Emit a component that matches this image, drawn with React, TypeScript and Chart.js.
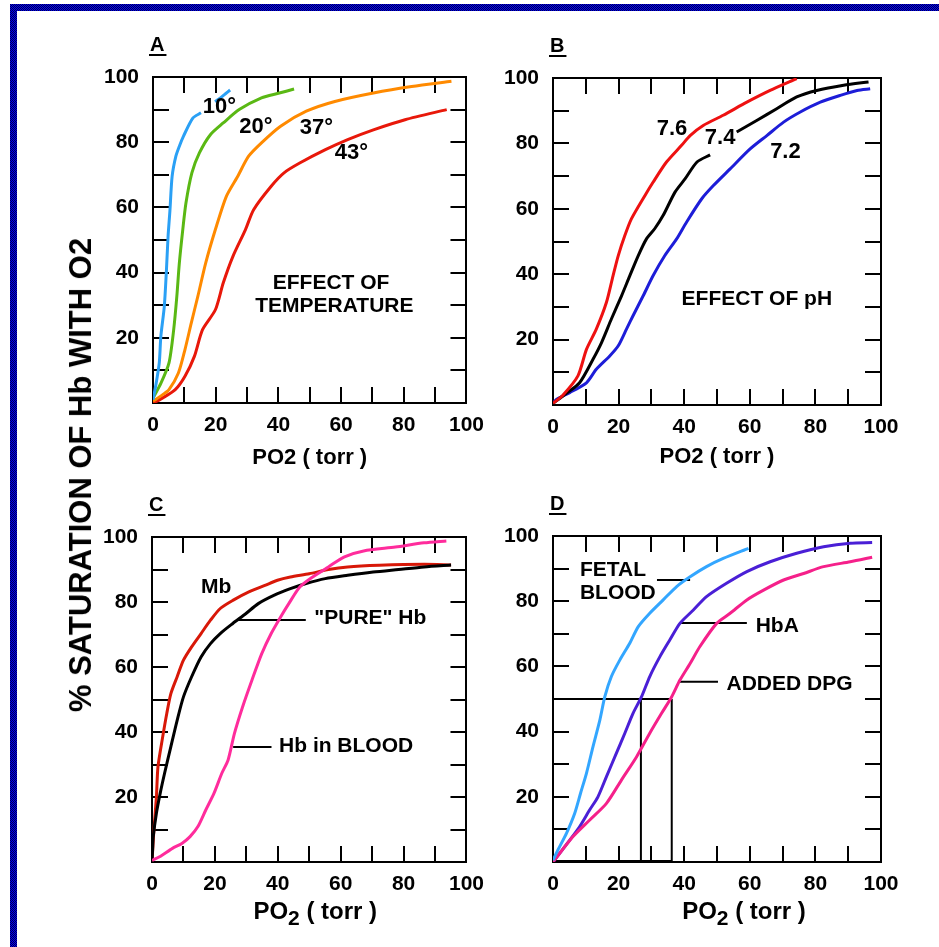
import { useEffect, useRef } from "react";
import { Chart, registerables } from "chart.js";

Chart.register(...registerables);

const FONT = "'Liberation Sans', Arial, Helvetica, sans-serif";

// ---------- Panel A : effect of temperature ----------
const a10X = [0, 1, 2, 2.5, 3.6, 4.3, 4.8, 5.4, 6.1, 7.3, 8.5, 9.7, 12.7, 15.3, 17.5, 19.8, 22, 24.6];
const a10Y = [1, 6, 12.3, 20.4, 29.6, 41, 51, 59, 69.5, 75.7, 79, 81.8, 87.4, 89, null, 92.4, 94, 96];
const a20X = [0, 2.5, 5.1, 6.6, 7.6, 8.4, 9.5, 10.5, 12.4, 14.8, 18.3, 22.4, 27.5, 34.6, 40, 45];
const a20Y = [1.5, 6, 12.3, 22.5, 32.7, 42.9, 53.2, 61.3, 70.6, 76.7, 82.3, 85.9, 90, 93.6, 95, 96.3];
const a37X = [0, 3, 5.1, 8.1, 10.2, 12.2, 14.3, 16.8, 19.9, 23.4, 27, 30.5, 34.6, 40.7, 48.9, 58, 70.3, 82.5, 95.2];
const a37Y = [0.5, 2.5, 4.1, 9.2, 16.4, 24.5, 32.7, 42.9, 53.2, 63.4, 69.5, 75.7, 79.8, 84.9, 89.5, 92.5, 95.1, 97.1, 98.7];
const a43X = [0, 3, 7.1, 10.2, 13.2, 15.8, 19.9, 22.4, 25.5, 29.5, 32.1, 37.7, 41.8, 46.8, 55, 62.1, 70.3, 80.4, 93.7];
const a43Y = [0, 1.5, 4.1, 8.2, 14.3, 22.5, 28.6, 36.8, 45, 53.2, 59.3, 66.5, 70.6, 73.6, 77.7, 80.8, 83.8, 86.9, 90];

// ---------- Panel B : effect of pH ----------
const b76X = [0, 3, 7.6, 10.2, 13.2, 16.3, 18.3, 19.9, 21.9, 23.9, 28, 30.5, 34.6, 39.2, 41.8, 45.8, 51.9, 59.1, 66.2, 74.3];
const b76Y = [0.5, 3, 8.9, 17, 23.2, 31.4, 39.5, 45.7, 51.8, 56.9, 64, 68.1, 74.3, 79.4, 82.4, 85.5, 88.6, 92.6, 96.2, 99.8];
const b74X = [0, 4, 8.1, 12.2, 14.8, 17.8, 20.9, 23.4, 26, 28.5, 31, 33.6, 37.2, 40.3, 43.9, 47.9, 52, 56, 62.1, 68.2, 74.3, 80.4, 88.6, 96.2];
const b74Y = [0.5, 3.5, 6.8, 14, 19.1, 26.3, 33.4, 39.5, 45.7, 50.8, 53.9, 58, 65.1, 69.2, 74.3, 76.5, null, 83.5, 87, 90.6, 94.2, 96.2, 97.8, 98.8];
const b72X = [0, 1, 5.1, 10.2, 13.2, 17.3, 19.9, 22.4, 24.4, 27.5, 30.5, 34.1, 37.7, 40.7, 45.3, 48.9, 54, 60.1, 65.2, 70.3, 75.4, 81.5, 87.6, 92.7, 96.7];
const b72Y = [0.5, 1.7, 3.8, 6.8, 10.9, 15, 18.1, 23.2, 27.3, 33.4, 39.5, 45.7, 50.8, 55.9, 63, 67.1, 72.2, 78.3, 82.4, 86.5, 89.6, 92.6, 94.7, 96.2, 96.7];

// ---------- Panel C : Mb, pure Hb, Hb in blood ----------
const cMbX = [0, 0.3, 0.6, 1.4, 1.9, 3.4, 4.7, 6, 8, 10, 12.6, 15.6, 18.6, 21.7, 25.7, 30.8, 35.9, 39.9, 44, 50, 56.1, 62.2, 72.3, 86.5, 95.1];
const cMbY = [0, 5, 9.8, 20, 29.3, 38.5, 45.7, 51.8, 57, 62.1, 66.2, 70.3, 74.4, 78, 80.5, 83.1, 85.1, 86.7, 87.7, 88.7, 90, 90.8, 91.3, 91.6, 91.4];
const cPureX = [0, 0.2, 0.4, 1.4, 2.6, 4, 6, 8, 10, 12.6, 15.6, 18.6, 21.7, 25.7, 29.8, 33.8, 38.9, 44, 49, 55.1, 62.2, 70.3, 78.4, 86.5, 95.1];
const cPureY = [0, 4, 7.8, 15, 21.1, 27.3, 35.5, 43.6, 50.8, 57, 63.1, 67.2, 70.3, 73.4, 76.4, 79.5, 82.1, 84.1, 85.7, 87.2, 88.2, 89.2, 90, 90.8, 91.4];
const cBloodX = [0, 2.4, 6.5, 9.5, 12.1, 14.6, 17.1, 19.7, 22.2, 24.2, 26.2, 28.8, 31.8, 34.9, 37.9, 40.9, 43.5, 47, 51.1, 56.1, 61.2, 67.3, 77.4, 86.5, 93.6];
const cBloodY = [0.5, 1.6, 4.2, 5.7, 7.8, 10.9, 16, 21.1, 27.3, 31.4, 39.5, 47.7, 56, 64.1, 70.3, 75.4, 79.5, 84.6, 87.7, 90.8, 93.9, 95.7, 96.9, 98.2, 98.8];

// ---------- Panel D : fetal blood, HbA, added DPG ----------
const dFetalX = [0, 1.5, 4.1, 6.6, 8.4, 10.2, 12.2, 14.3, 15.8, 17.8, 20.4, 23.4, 26, 29.5, 33.6, 37.7, 41.8, 46.8, 51.9, 59.6];
const dFetalY = [0.5, 3.7, 8.8, 14.9, 21.1, 27.2, 35.4, 43.6, 50.7, 56.9, 62, 67.1, 72.2, 76.3, 80.4, 84.5, 87.5, 90.6, 93.1, 96.2];
const dHbaX = [0, 5.1, 8.1, 11.2, 13.7, 16.3, 19.3, 21.9, 24.4, 27, 29.5, 32.6, 35.6, 38.7, 42.8, 46.8, 52.9, 59.1, 66.2, 74.3, 82.5, 90.6, 97.3];
const dHbaY = [0, 6.7, 10.8, 16, 20, 26.2, 33.3, 39.5, 45.6, 50.7, 56.9, 63, 68.1, 73.2, 77.3, 81.4, 85.5, 89.1, 92.1, 94.7, 96.7, 97.8, 98];
const dDpgX = [0, 6.1, 11.2, 16.3, 20.9, 25.5, 29.5, 33.1, 36.2, 38.7, 41.8, 44.8, 49.9, 54, 59.1, 64.2, 70.3, 76.4, 82.5, 90.6, 97.3];
const dDpgY = [0, 7.8, 12.9, 18, 25.2, 32.3, 39.5, 45.6, 50.7, 55.8, 60.9, 66.1, 73.2, 76.3, 80.4, 83.4, 86.5, 88.5, 90.6, 92.1, 93.5];

// P50 guide lines in D (x of the two half-saturation points, and 50 %)
const dP50X = [26.8, 36.2];
const dHalf = 50;

// leader lines [x0, x1, y]
const cLeaders = [[27.4, 48.9, 74.5], [25.8, 38, 35.4]];
const dLeaders = [[31.7, 41.8, 86.5], [38.7, 59.1, 73.3], [38.7, 50.3, 55.3]];

// tick values / labels
const axisMin = 0;
const axisMax = 100;
const tickStep = 10;
const labelStep = 20;

type Txt = { text: string; x: number; y: number; size: number };

const aTexts: Txt[] = [
  { text: "10°", x: 15.9, y: 90.9, size: 22 },
  { text: "20°", x: 27.5, y: 84.8, size: 22 },
  { text: "37°", x: 46.8, y: 84.3, size: 22 },
  { text: "43°", x: 58, y: 76.8, size: 22 },
  { text: "EFFECT OF", x: 38.2, y: 36.7, size: 21 },
  { text: "TEMPERATURE", x: 32.6, y: 29.8, size: 21 },
];
const bTexts: Txt[] = [
  { text: "7.6", x: 31.6, y: 84.4, size: 22 },
  { text: "7.4", x: 46.3, y: 81.6, size: 22 },
  { text: "7.2", x: 66.2, y: 77.5, size: 22 },
  { text: "EFFECT OF pH", x: 39.2, y: 32.4, size: 21 },
];
const cTexts: Txt[] = [
  { text: "Mb", x: 15.6, y: 84.7, size: 21 },
  { text: "\"PURE\" Hb", x: 51.6, y: 75, size: 21 },
  { text: "Hb in BLOOD", x: 40.4, y: 35.5, size: 21 },
];
const dTexts: Txt[] = [
  { text: "FETAL", x: 8.2, y: 89.6, size: 21 },
  { text: "BLOOD", x: 8.2, y: 82.5, size: 21 },
  { text: "HbA", x: 61.8, y: 72.2, size: 21 },
  { text: "ADDED DPG", x: 52.9, y: 54.6, size: 21 },
];

const pts = (xs: number[], ys: (number | null)[]) => xs.map((x, i) => ({ x, y: ys[i] }));

const curve = (xs: number[], ys: (number | null)[], color: string) => ({
  data: pts(xs, ys),
  borderColor: color,
  borderWidth: 3,
  pointRadius: 0,
  fill: false,
  tension: 0.25,
  spanGaps: false,
});

const seg = (x0: number, y0: number, x1: number, y1: number, w = 2) => ({
  data: [{ x: x0, y: y0 }, { x: x1, y: y1 }],
  borderColor: "#000",
  borderWidth: w,
  pointRadius: 0,
  fill: false,
  tension: 0,
});

type Panel = {
  left: number;
  top: number;
  width: number;
  height: number;
  padding: { left: number; right: number; top: number; bottom: number };
  letter: string;
  datasets: any[];
  texts: Txt[];
  title: string;
  subTitle: boolean;
  titleDx: number;
  titlePad: number;
};

const panels: Panel[] = [
  {
    left: 20, top: 20, width: 490, height: 460,
    padding: { left: 73, right: 29, top: 57, bottom: 7 },
    letter: "A",
    datasets: [
      curve(a10X, a10Y, "#2aa0f5"),
      curve(a20X, a20Y, "#5ab814"),
      curve(a37X, a37Y, "#ff8a00"),
      curve(a43X, a43Y, "#e8180a"),
    ],
    texts: aTexts,
    title: "PO2 ( torr )",
    subTitle: false,
    titleDx: 0,
    titlePad: 2,
  },
  {
    left: 480, top: 20, width: 455, height: 460,
    padding: { left: 13, right: 54, top: 58, bottom: 5 },
    letter: "B",
    datasets: [
      curve(b76X, b76Y, "#ee1111"),
      curve(b74X, b74Y, "#000000"),
      curve(b72X, b72Y, "#1d1dd8"),
    ],
    texts: bTexts,
    title: "PO2 ( torr )",
    subTitle: false,
    titleDx: 0,
    titlePad: 5,
  },
  {
    left: 20, top: 485, width: 490, height: 450,
    padding: { left: 72, right: 29, top: 52, bottom: 3 },
    letter: "C",
    datasets: [
      curve(cBloodX, cBloodY, "#ff2c9c"),
      curve(cPureX, cPureY, "#000000"),
      curve(cMbX, cMbY, "#d81808"),
      ...cLeaders.map((l) => seg(l[0], l[2], l[1], l[2])),
    ],
    texts: cTexts,
    title: "PO",
    subTitle: true,
    titleDx: 6,
    titlePad: 0,
  },
  {
    left: 480, top: 485, width: 455, height: 450,
    padding: { left: 13, right: 54, top: 51, bottom: 3 },
    letter: "D",
    datasets: [
      curve(dFetalX, dFetalY, "#33a6ff"),
      curve(dDpgX, dDpgY, "#f5208a"),
      curve(dHbaX, dHbaY, "#4a1fd6"),
      seg(axisMin, dHalf, dP50X[1], dHalf),
      seg(dP50X[0], axisMin, dP50X[0], dHalf),
      seg(dP50X[1], axisMin, dP50X[1], dHalf),
      seg(axisMin, axisMin, dP50X[1], axisMin, 4),
      ...dLeaders.map((l) => seg(l[0], l[2], l[1], l[2])),
    ],
    texts: dTexts,
    title: "PO",
    subTitle: true,
    titleDx: 27,
    titlePad: 0,
  },
];

const tickFont = { family: FONT, size: 21, weight: "bold" as const };

function makeConfig(p: Panel): any {
  const grid = {
    drawOnChartArea: false,
    drawTicks: true,
    tickLength: -16,
    tickWidth: 2,
    lineWidth: 2,
    color: "#000",
    tickColor: "#000",
  };
  const border = { display: true, color: "#000", width: 2 };
  const hidden = { stepSize: tickStep, display: false, autoSkip: false };

  const overlay = {
    id: "overlay" + p.letter,
    afterDatasetsDraw(chart: any) {
      const { ctx, chartArea, scales } = chart;
      const sx = scales.x;
      const sy = scales.y;
      ctx.save();
      ctx.fillStyle = "#000";
      ctx.strokeStyle = "#000";
      ctx.textBaseline = "middle";
      ctx.textAlign = "left";
      for (const t of p.texts) {
        ctx.font = `bold ${t.size}px ${FONT}`;
        ctx.fillText(t.text, sx.getPixelForValue(t.x), sy.getPixelForValue(t.y));
      }
      // panel letter, underlined
      ctx.font = `bold 20px ${FONT}`;
      const lx = chartArea.left - 3;
      const ly = chartArea.top - 32;
      ctx.fillText(p.letter, lx, ly);
      const lw = ctx.measureText(p.letter).width;
      ctx.lineWidth = 2;
      ctx.beginPath();
      ctx.moveTo(lx - 1, ly + 10);
      ctx.lineTo(lx + lw + 2, ly + 10);
      ctx.stroke();
      // subscripted axis title
      if (p.subTitle) {
        const big = `bold 24px ${FONT}`;
        const small = `bold 21px ${FONT}`;
        const rest = " ( torr )";
        ctx.font = big;
        const w1 = ctx.measureText(p.title).width;
        const w3 = ctx.measureText(rest).width;
        ctx.font = small;
        const w2 = ctx.measureText("2").width;
        const cx = (chartArea.left + chartArea.right) / 2 + p.titleDx;
        let x = cx - (w1 + w2 + w3) / 2;
        const y = chartArea.bottom + 50;
        ctx.font = big;
        ctx.fillText(p.title, x, y);
        x += w1;
        ctx.font = small;
        ctx.fillText("2", x, y + 7);
        x += w2;
        ctx.font = big;
        ctx.fillText(rest, x, y);
      }
      ctx.restore();
    },
  };

  return {
    type: "line",
    data: { datasets: p.datasets },
    plugins: [overlay],
    options: {
      responsive: false,
      animation: false,
      devicePixelRatio: 1,
      layout: { padding: p.padding },
      plugins: { legend: { display: false }, tooltip: { enabled: false }, title: { display: false } },
      scales: {
        x: {
          type: "linear",
          position: "bottom",
          min: axisMin,
          max: axisMax,
          ticks: {
            stepSize: tickStep,
            autoSkip: false,
            maxRotation: 0,
            padding: 26,
            color: "#000",
            font: tickFont,
            callback: (v: number) => (v % labelStep === 0 ? String(v) : ""),
          },
          grid,
          border,
          title: p.subTitle
            ? { display: false }
            : {
                display: true,
                text: p.title,
                color: "#000",
                font: { family: FONT, size: 22, weight: "bold" },
                padding: { top: 0, bottom: p.titlePad },
              },
          afterFit: (s: any) => {
            s.height = 70;
          },
        },
        x2: {
          type: "linear",
          position: "top",
          min: axisMin,
          max: axisMax,
          ticks: hidden,
          grid,
          border,
          afterFit: (s: any) => {
            s.height = 0;
          },
        },
        y: {
          type: "linear",
          position: "left",
          min: axisMin,
          max: axisMax,
          ticks: {
            stepSize: tickStep,
            autoSkip: false,
            padding: 30,
            color: "#000",
            font: tickFont,
            callback: (v: number) => (v % labelStep === 0 && v !== 0 ? String(v) : ""),
          },
          grid,
          border,
          afterFit: (s: any) => {
            s.width = 60;
          },
        },
        y2: {
          type: "linear",
          position: "right",
          min: axisMin,
          max: axisMax,
          ticks: hidden,
          grid,
          border,
          afterFit: (s: any) => {
            s.width = 0;
          },
        },
      },
    },
  };
}

function PanelChart({ p }: { p: Panel }) {
  const ref = useRef<HTMLCanvasElement | null>(null);
  useEffect(() => {
    if (!ref.current) return;
    const chart = new Chart(ref.current, makeConfig(p));
    return () => chart.destroy();
  }, [p]);
  return (
    <canvas
      ref={ref}
      width={p.width}
      height={p.height}
      style={{ position: "absolute", left: p.left, top: p.top, width: p.width, height: p.height }}
    />
  );
}

const checker = "repeating-conic-gradient(#0000f0 0% 25%, #000050 0% 50%) 0 0 / 2px 2px";

export default function App() {
  return (
    <div
      style={{
        position: "absolute",
        left: 0,
        top: 0,
        width: 939,
        height: 947,
        background: "#fff",
        overflow: "hidden",
      }}
    >
      <div style={{ position: "absolute", left: 10, top: 4, width: 929, height: 7, background: checker }} />
      <div style={{ position: "absolute", left: 10, top: 4, width: 7, height: 943, background: checker }} />
      {panels.map((p) => (
        <PanelChart key={p.letter} p={p} />
      ))}
      <div
        style={{
          position: "absolute",
          left: 81,
          top: 475,
          transform: "translate(-50%, -50%) rotate(-90deg)",
          whiteSpace: "nowrap",
          fontFamily: FONT,
          fontWeight: "bold",
          fontSize: 31,
          lineHeight: "36px",
          color: "#000",
        }}
      >
        % SATURATION OF Hb WITH O2
      </div>
    </div>
  );
}
